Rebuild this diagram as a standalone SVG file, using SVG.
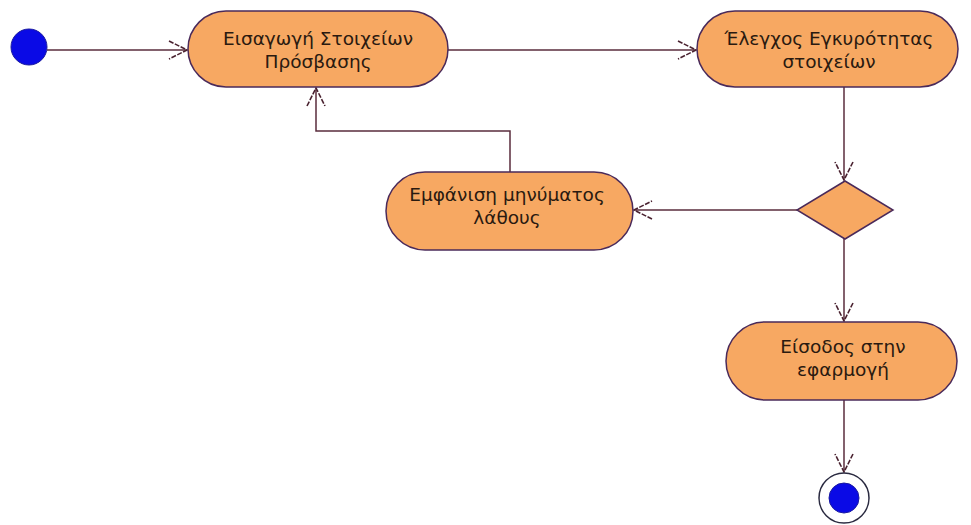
<svg xmlns="http://www.w3.org/2000/svg" width="971" height="525" viewBox="0 0 971 525">
  <style>
    .act { fill: #f7a862; stroke: #4a2a5a; stroke-width: 1.5; }
    .lbl { font-family: "DejaVu Sans", Verdana, sans-serif; font-size: 18.5px; fill: #2a1a10; text-anchor: middle; }
    .edge { fill: none; stroke: #5a2d3c; stroke-width: 1.5; marker-end: url(#open); }
  </style>
  <defs>
    <marker id="open" markerUnits="userSpaceOnUse" markerWidth="22" markerHeight="22" viewBox="-20 -11 22 22" refX="0" refY="0" orient="auto">
      <path d="M-18,-9 L0,0 L-18,9" fill="none" stroke="#4a2230" stroke-width="1.6" stroke-dasharray="5 1.5"/>
    </marker>
  </defs>
  <rect width="971" height="525" fill="#ffffff"/>

  <g id="connectors">
    <path class="edge" d="M47,50 H187"/>
    <path class="edge" d="M448,50 H696"/>
    <path class="edge" d="M844,87 V180"/>
    <path class="edge" d="M797,210 H634"/>
    <path class="edge" d="M844,239 V321"/>
    <path class="edge" d="M844,400 V472"/>
    <path class="edge" d="M510,172 V131 H316 V88"/>
  </g>

  <g id="start">
    <circle cx="29" cy="47" r="18" fill="#0a0ae6" stroke="#1a1aa0" stroke-width="1"/>
  </g>

  <g id="enter-credentials">
    <rect class="act" x="188" y="11" width="260" height="76" rx="38" ry="38"/>
    <text class="lbl" x="318" y="45">Εισαγωγή Στοιχείων</text>
    <text class="lbl" x="318" y="68">Πρόσβασης</text>
  </g>

  <g id="validate">
    <rect class="act" x="697" y="11" width="261" height="76" rx="38" ry="38"/>
    <text class="lbl" x="829" y="45">Έλεγχος Εγκυρότητας</text>
    <text class="lbl" x="829" y="68">στοιχείων</text>
  </g>

  <g id="decision">
    <polygon class="act" points="845,181 893,210 845,239 797,210"/>
  </g>

  <g id="show-error">
    <rect class="act" x="386" y="172" width="247" height="78" rx="39" ry="39"/>
    <text class="lbl" x="507" y="201">Εμφάνιση μηνύματος</text>
    <text class="lbl" x="507" y="224">λάθους</text>
  </g>

  <g id="login">
    <rect class="act" x="726" y="322" width="231" height="78" rx="39" ry="39"/>
    <text class="lbl" x="843" y="353">Είσοδος στην</text>
    <text class="lbl" x="843" y="376">εφαρμογή</text>
  </g>

  <g id="end">
    <circle cx="844" cy="498" r="25" fill="#ffffff" stroke="#2a2a40" stroke-width="1.5"/>
    <circle cx="844" cy="498" r="15" fill="#0a0ae6" stroke="#1a1aa0" stroke-width="1"/>
  </g>
</svg>
